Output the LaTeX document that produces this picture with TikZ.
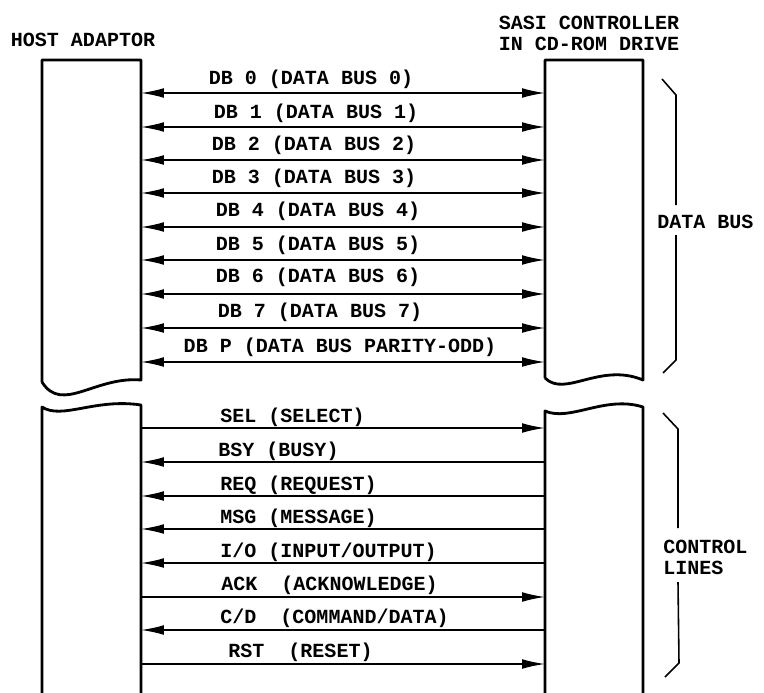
\documentclass[tikz,border=0pt]{standalone}
\usepackage{fontspec}
\usepackage{tikz}
\usetikzlibrary{arrows.meta, positioning}
\newfontfamily\scanfont{Liberation Mono}

\begin{document}
\begin{tikzpicture}[
    x=0.02cm, y=-0.02cm,
    unit/.style={line width=1.6pt, line join=round},
    sig/.style={line width=0.85pt},
    both/.style={sig, {Latex[length=13pt,width=5.5pt]}-{Latex[length=13pt,width=5.5pt]}},
    tohost/.style={sig, {Latex[length=13pt,width=5.5pt]}-},
    todrive/.style={sig, -{Latex[length=13pt,width=5.5pt]}},
    brace/.style={line width=0.9pt},
    lbl/.style={font=\scanfont\bfseries\fontsize{11.4}{12}\selectfont, inner sep=0pt},
    head/.style={lbl, align=center},
    side/.style={lbl, align=left, anchor=west}
  ]
    \useasboundingbox (0,0) rectangle (764,693);

    % the two units, broken between data bus and control lines
    \draw[unit] (42,382) -- (42,60) -- (141,60) -- (141,380)
      .. controls (95,376) and (62,414) .. (42,382);
    \draw[unit] (42,693) -- (42,407) .. controls (62,420) and (95,398) .. (141,405) -- (141,693);
    \draw[unit] (545,378) -- (545,60) -- (643,60) -- (643,380)
      .. controls (600,362) and (565,398) .. (545,378);
    \draw[unit] (545,693) -- (545,411) .. controls (570,422) and (605,395) .. (643,407) -- (643,693);

    \node[head] (host) at (83,40) {HOST ADAPTOR};
    \node[head] (sasi) at (589,33) {SASI CONTROLLER\\IN CD-ROM DRIVE};

    % data bus
    \coordinate (h0) at (141,93);  \coordinate (c0) at (545,93);
    \coordinate (h1) at (141,127); \coordinate (c1) at (545,127);
    \coordinate (h2) at (141,160); \coordinate (c2) at (545,160);
    \coordinate (h3) at (141,193); \coordinate (c3) at (545,193);
    \coordinate (h4) at (141,227); \coordinate (c4) at (545,227);
    \coordinate (h5) at (141,260); \coordinate (c5) at (545,260);
    \coordinate (h6) at (141,294); \coordinate (c6) at (545,294);
    \coordinate (h7) at (141,328); \coordinate (c7) at (545,328);
    \coordinate (hp) at (141,362); \coordinate (cp) at (545,362);

    \draw[both] (h0) -- (c0);
    \draw[both] (h1) -- (c1);
    \draw[both] (h2) -- (c2);
    \draw[both] (h3) -- (c3);
    \draw[both] (h4) -- (c4);
    \draw[both] (h5) -- (c5);
    \draw[both] (h6) -- (c6);
    \draw[both] (h7) -- (c7);
    \draw[both] (hp) -- (cp);

    \node[lbl] (db0) at (311,79) {DB 0 (DATA BUS 0)};
    \node[lbl] (db1) at (316,113) {DB 1 (DATA BUS 1)};
    \node[lbl] (db2) at (314,145) {DB 2 (DATA BUS 2)};
    \node[lbl] (db3) at (314,178) {DB 3 (DATA BUS 3)};
    \node[lbl] (db4) at (318,211) {DB 4 (DATA BUS 4)};
    \node[lbl] (db5) at (318,245) {DB 5 (DATA BUS 5)};
    \node[lbl] (db6) at (318,277) {DB 6 (DATA BUS 6)};
    \node[lbl] (db7) at (320,312) {DB 7 (DATA BUS 7)};
    \node[lbl] (dbp) at (340,347) {DB P (DATA BUS PARITY-ODD)};

    % control lines
    \coordinate (hsel) at (141,428); \coordinate (csel) at (545,428);
    \coordinate (hbsy) at (141,462); \coordinate (cbsy) at (545,462);
    \coordinate (hreq) at (141,496); \coordinate (creq) at (545,496);
    \coordinate (hmsg) at (141,529); \coordinate (cmsg) at (545,529);
    \coordinate (hio)  at (141,563); \coordinate (cio)  at (545,563);
    \coordinate (hack) at (141,597); \coordinate (cack) at (545,597);
    \coordinate (hcd)  at (141,630); \coordinate (ccd)  at (545,630);
    \coordinate (hrst) at (141,664); \coordinate (crst) at (545,664);

    \draw[todrive] (hsel) -- (csel);
    \draw[tohost] (hbsy) -- (cbsy);
    \draw[tohost] (hreq) -- (creq);
    \draw[tohost] (hmsg) -- (cmsg);
    \draw[tohost] (hio) -- (cio);
    \draw[todrive] (hack) -- (cack);
    \draw[tohost] (hcd) -- (ccd);
    \draw[todrive] (hrst) -- (crst);

    \node[lbl, anchor=west] (sel) at (220,417) {SEL (SELECT)};
    \node[lbl, anchor=west] (bsy) at (218,451) {BSY (BUSY)};
    \node[lbl, anchor=west] (req) at (220,485) {REQ (REQUEST)};
    \node[lbl, anchor=west] (msg) at (220,518) {MSG (MESSAGE)};
    \node[lbl, anchor=west] (io)  at (220,552) {I/O (INPUT/OUTPUT)};
    \node[lbl, anchor=west] (ack) at (221,585) {ACK\ \ (ACKNOWLEDGE)};
    \node[lbl, anchor=west] (cd)  at (220,618) {C/D\ \ (COMMAND/DATA)};
    \node[lbl, anchor=west] (rst) at (228,652) {RST\ \ (RESET)};

    % braces at the right
    \node[side] (databus) at (657,222) {DATA BUS};
    \node[side] (ctrl) at (663,557) {CONTROL\\LINES};
    \draw[brace] (662,79) -- (676,95) -- (676,205);
    \draw[brace] (676,235) -- (676,360) -- (663,373);
    \draw[brace] (663,413) -- (678,429) -- (678,528);
    \draw[brace] (678,582) -- (679,663) -- (665,677);
\end{tikzpicture}
\end{document}
